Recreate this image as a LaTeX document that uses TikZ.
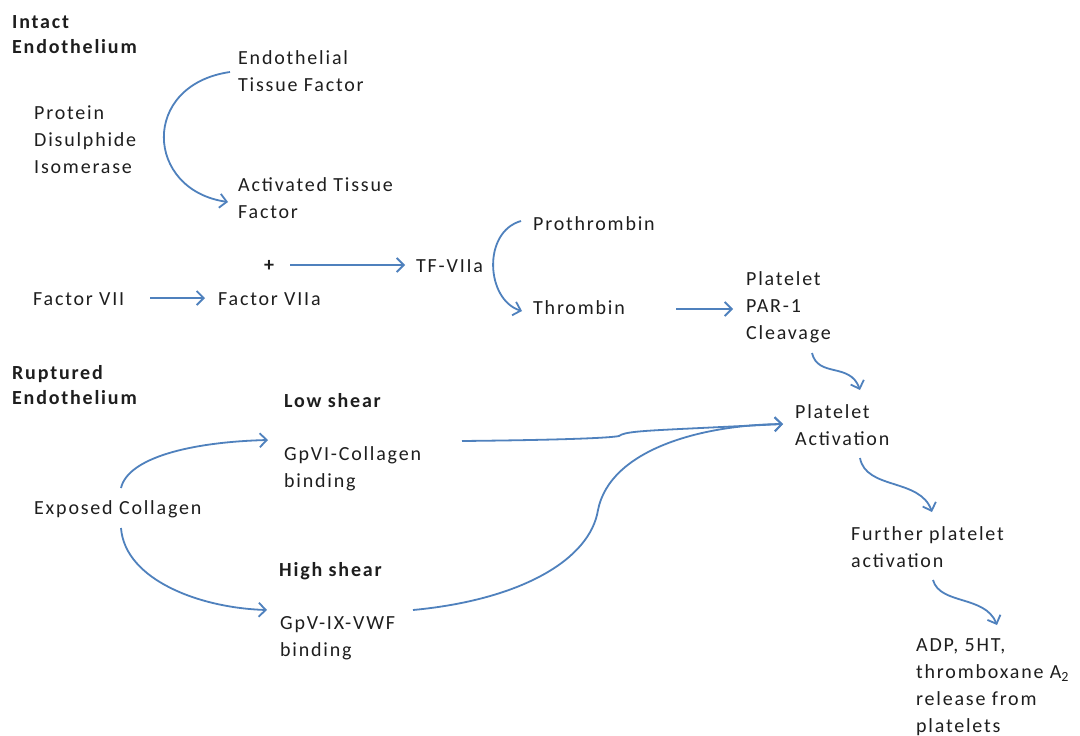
\documentclass[tikz,border=0pt]{standalone}
\usepackage{fontspec}
\setmainfont{Carlito}[LetterSpace=9]
\usetikzlibrary{arrows.meta,calc}
\definecolor{lineblue}{RGB}{79,129,189}
\definecolor{txt}{RGB}{30,30,30}
\tikzset{
  lbl/.style={anchor=west, inner sep=0pt, align=left, text=txt,
    font=\fontsize{20}{27}\selectfont},
  hd/.style={lbl, font=\fontsize{20}{25}\selectfont\bfseries},
  arr/.style={draw=lineblue, line width=1.8pt,
    -{Straight Barb[length=7pt,width=14pt,line width=1.8pt]}},
}
\begin{document}
\begin{tikzpicture}[x=1pt,y=-1pt]
\fill[white] (0,0) rectangle (1080,736);
\useasboundingbox (0,0) rectangle (1080,736);
% nodes
\node[hd]  (intact) at (12,35)  {Intact\\Endothelium};
\node[lbl] (etf)  at (238,71)  {Endothelial\\Tissue Factor};
\node[lbl] (pdi)  at (34,140)  {Protein\\Disulphide\\Isomerase};
\node[lbl] (atf)  at (238,198) {Activated Tissue\\Factor};
\node[lbl] (pro)  at (533,224) {Prothrombin};
\node[lbl] (plus) at (264,266) {\bfseries +};
\node[lbl] (tf)   at (416,266) {TF-VIIa};
\node[lbl] (f7)   at (33,299)  {Factor VII};
\node[lbl] (f7a)  at (218,299) {Factor VIIa};
\node[lbl] (thr)  at (533,308) {Thrombin};
\node[lbl] (par)  at (746,307) {Platelet\\PAR-1\\Cleavage};
\node[hd]  (rupt) at (12,385)  {Ruptured\\Endothelium};
\node[hd]  (low)  at (284,401) {Low shear};
\node[lbl] (pa)   at (795,425) {Platelet\\Activation};
\node[lbl] (gp6)  at (284,469) {GpVI-Collagen\\binding};
\node[lbl] (ec)   at (34,509)  {Exposed Collagen};
\node[hd]  (high) at (279,571) {High shear};
\node[lbl] (gp5)  at (280,638) {GpV-IX-VWF\\binding};
\node[lbl] (fpa)  at (851,547) {Further platelet\\activation};
\node[lbl] (adp)  at (916,687) {ADP, 5HT,\\thromboxane A\textsubscript{2}\\release from\\platelets};
% connectors
\draw[arr] ($(etf.west)+(-8,1)$) .. controls (140,85) and (145,190) .. ($(atf.west)+(-10,4)$);
\draw[arr] ($(plus.west)+(26,-1)$) -- ($(tf.west)+(-11,-1)$);
\draw[arr] ($(f7.west)+(117,-1)$) -- ($(f7a.west)+(-13,-1)$);
\draw[arr] ($(pro.west)+(-12,-3)$) .. controls (482,232) and (486,300) .. ($(thr.west)+(-11,3)$);
\draw[arr] ($(thr.west)+(143,1)$) -- ($(par.west)+(-13,2)$);
\draw[arr] ($(par.west)+(66,46)$) .. controls (818,378) and (850,362) .. ($(pa.west)+(65,-35)$);
\draw[arr] ($(ec.west)+(87,-21)$) .. controls (128,458) and (190,442) .. ($(gp6.west)+(-16,-29)$);
\draw[arr] ($(ec.west)+(87,19)$) .. controls (125,580) and (200,608) .. ($(gp5.west)+(-13,-28)$);
\draw[arr] ($(gp6.west)+(178,-28)$) .. controls (560,440) and (610,438) .. (619,436)
   .. controls (624,432) and (640,431) .. (680,429) -- ($(pa.west)+(-12,-1)$);
\draw[arr] ($(gp5.west)+(133,-28)$) .. controls (520,600) and (590,560) .. (598,510)
   .. controls (610,450) and (700,425) .. ($(pa.west)+(-12,-1)$);
\draw[arr] ($(pa.west)+(65,33)$) .. controls (866,490) and (920,478) .. ($(fpa.west)+(81,-35)$);
\draw[arr] ($(fpa.west)+(82,33)$) .. controls (940,605) and (985,595) .. ($(adp.west)+(81,-62)$);
\end{tikzpicture}
\end{document}
